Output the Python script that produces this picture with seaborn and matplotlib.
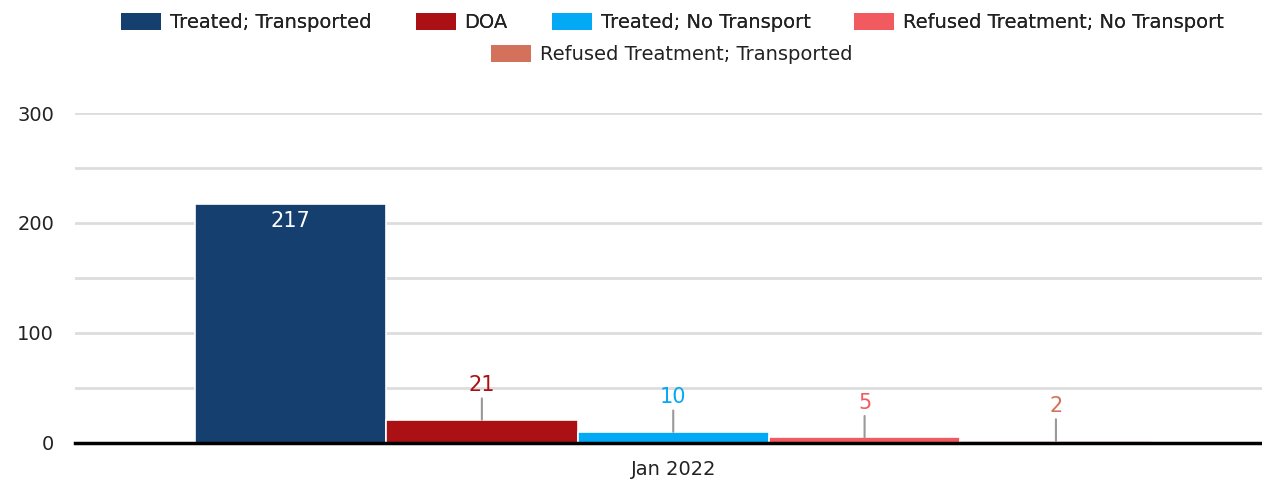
import matplotlib
matplotlib.use("Agg")
import matplotlib.pyplot as plt
from matplotlib.patches import Patch
import seaborn as sns
import pandas as pd

# data
months = ["Jan 2022"]
statuses = [
    "Treated; Transported",
    "DOA",
    "Treated; No Transport",
    "Refused Treatment; No Transport",
    "Refused Treatment; Transported",
]
counts = [217, 21, 10, 5, 2]
colors = ["#143f6f", "#aa1014", "#03a9f4", "#f15b60", "#d4715a"]
y_ticks = [0, 100, 200, 300]

df = pd.DataFrame({
    "month": months * len(statuses),
    "status": statuses,
    "count": counts,
})

sns.set_style("white")
plt.rcParams["font.family"] = ["DejaVu Sans"]

fig = plt.figure(figsize=(12.62, 4.83), dpi=100)
ax = fig.add_axes([0.0594, 0.083, 0.9406, 0.683])

sns.barplot(
    data=df, x="month", y="count", hue="status",
    hue_order=statuses, palette=colors, width=0.806, saturation=1,
    edgecolor="white", linewidth=1.2, legend=False, ax=ax,
)

ax.set_ylim(0, 300)
ax.set_xlim(-0.504, 0.496)
ax.set_yticks(range(0, 301, 50))
ax.set_yticklabels([str(v) if v in y_ticks else "" for v in range(0, 301, 50)])
ax.yaxis.grid(True, color="#dddddd", linewidth=2)
ax.set_axisbelow(True)
for s in ["left", "right", "top"]:
    ax.spines[s].set_visible(False)
ax.spines["bottom"].set_color("black")
ax.spines["bottom"].set_linewidth(2.5)
ax.spines["bottom"].set_zorder(5)
ax.tick_params(axis="both", length=0, labelsize=14, colors="#222222")
ax.tick_params(axis="x", pad=12)
ax.tick_params(axis="y", pad=15)
ax.set_xlabel("")
ax.set_ylabel("")

# value labels
for i, cont in enumerate(ax.containers):
    bar = cont[0]
    x = bar.get_x() + bar.get_width() / 2
    h = bar.get_height()
    if i == 0:
        ax.annotate(str(counts[i]), xy=(x, h), xytext=(0, -12),
                    textcoords="offset points", ha="center", va="center",
                    color="white", fontsize=15)
    else:
        ax.annotate(str(counts[i]), xy=(x, h), xytext=(0, 25),
                    textcoords="offset points", ha="center", va="center",
                    color=colors[i], fontsize=15,
                    arrowprops=dict(arrowstyle="-", color="#999999", lw=1.5,
                                    shrinkA=0, shrinkB=0))

# legend: 4 items on first row, last one centred below
handles = [Patch(facecolor=c, edgecolor="none") for c in colors]
leg_kw = dict(frameon=False, fontsize=14, handlelength=2.06, handleheight=1.0,
              handletextpad=0.46, labelcolor="#222222")
leg1 = fig.legend(handles[:4], statuses[:4], loc="center", ncol=4,
                  bbox_to_anchor=(0.533, 0.953), columnspacing=2.25, **leg_kw)
leg2 = fig.legend(handles[4:], statuses[4:], loc="center", ncol=1,
                  bbox_to_anchor=(0.532, 0.887), **leg_kw)
fig.add_artist(leg1)

fig.savefig("out.png", dpi=100)
